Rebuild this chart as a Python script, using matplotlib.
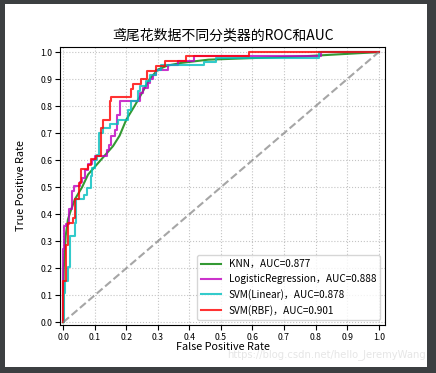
import matplotlib
matplotlib.use('Agg')
import matplotlib.pyplot as plt
import numpy as np

plt.rcParams['font.family'] = ['Noto Sans CJK SC', 'DejaVu Sans']
plt.rcParams['axes.unicode_minus'] = False

# ROC corners (fpr, tpr)
knn_fpr = [0, 0.002, 0.008, 0.015, 0.022, 0.037, 0.06, 0.079, 0.1, 0.121, 0.158, 0.179,
           0.2, 0.226, 0.25, 0.274, 0.3, 0.33, 0.374, 0.46, 0.77, 1.0]
knn_tpr = [0, 0.2, 0.32, 0.38, 0.406, 0.455, 0.5, 0.547, 0.575, 0.603, 0.652, 0.691,
           0.75, 0.8, 0.849, 0.9, 0.935, 0.95, 0.96, 0.972, 0.985, 1.0]

lr_fpr = [0, 0, 0.003, 0.003, 0.008, 0.008, 0.02, 0.02, 0.027, 0.027, 0.035, 0.035,
          0.052, 0.052, 0.06, 0.06, 0.068, 0.068, 0.078, 0.078, 0.09, 0.09, 0.1, 0.1,
          0.14, 0.14, 0.145, 0.145, 0.152, 0.152, 0.163, 0.163, 0.171, 0.171, 0.179, 0.179,
          0.242, 0.242, 0.253, 0.253, 0.268, 0.268, 0.274, 0.274, 0.284, 0.284, 0.295, 0.295,
          0.332, 0.332, 0.363, 0.363, 0.416, 0.416, 0.816, 0.816, 1.0]
lr_tpr = [0, 0.27, 0.27, 0.357, 0.357, 0.365, 0.365, 0.42, 0.42, 0.486, 0.486, 0.504,
          0.504, 0.52, 0.52, 0.535, 0.535, 0.565, 0.565, 0.585, 0.585, 0.6, 0.6, 0.617,
          0.617, 0.637, 0.637, 0.658, 0.658, 0.689, 0.689, 0.713, 0.713, 0.769, 0.769, 0.818,
          0.818, 0.849, 0.849, 0.867, 0.867, 0.885, 0.885, 0.9, 0.9, 0.916, 0.916, 0.935,
          0.935, 0.953, 0.953, 0.967, 0.967, 0.984, 0.984, 1.0, 1.0]

svl_fpr = [0, 0.003, 0.003, 0.007, 0.007, 0.014, 0.014, 0.021, 0.021, 0.037, 0.037, 0.042,
           0.042, 0.066, 0.066, 0.077, 0.077, 0.087, 0.087, 0.092, 0.092, 0.1, 0.1, 0.108,
           0.108, 0.114, 0.114, 0.126, 0.126, 0.147, 0.147, 0.174, 0.174, 0.207, 0.207, 0.216,
           0.216, 0.237, 0.237, 0.242, 0.242, 0.263, 0.263, 0.274, 0.274, 0.295, 0.295, 0.31,
           0.31, 0.447, 0.447, 0.484, 0.484, 0.81, 0.81, 1.0]
svl_tpr = [0, 0, 0.11, 0.11, 0.153, 0.153, 0.203, 0.203, 0.32, 0.32, 0.369, 0.369,
           0.455, 0.455, 0.47, 0.47, 0.498, 0.498, 0.541, 0.541, 0.57, 0.57, 0.6, 0.6,
           0.62, 0.62, 0.701, 0.701, 0.72, 0.72, 0.735, 0.735, 0.75, 0.75, 0.787, 0.787,
           0.818, 0.818, 0.855, 0.855, 0.873, 0.873, 0.892, 0.892, 0.916, 0.916, 0.935, 0.935,
           0.953, 0.953, 0.965, 0.965, 0.98, 0.98, 1.0, 1.0]

svr_fpr = [0, 0, 0.01, 0.01, 0.014, 0.014, 0.031, 0.031, 0.039, 0.039, 0.05, 0.05,
           0.056, 0.056, 0.079, 0.079, 0.089, 0.089, 0.105, 0.105, 0.121, 0.121, 0.126, 0.126,
           0.147, 0.147, 0.153, 0.153, 0.214, 0.214, 0.221, 0.221, 0.247, 0.247, 0.266, 0.266,
           0.295, 0.295, 0.323, 0.323, 0.389, 0.389, 0.589, 0.589, 1.0]
svr_tpr = [0, 0.153, 0.153, 0.286, 0.286, 0.369, 0.369, 0.387, 0.387, 0.455, 0.455, 0.517,
           0.517, 0.566, 0.566, 0.584, 0.584, 0.605, 0.605, 0.617, 0.617, 0.72, 0.72, 0.75,
           0.75, 0.818, 0.818, 0.834, 0.834, 0.865, 0.865, 0.883, 0.883, 0.9, 0.9, 0.931,
           0.931, 0.949, 0.949, 0.967, 0.967, 0.985, 0.985, 1.0, 1.0]

names = ['KNN', 'LogisticRegression', 'SVM(Linear)', 'SVM(RBF)']
aucs = [0.877, 0.888, 0.878, 0.901]
colors = ['g', 'm', 'c', 'r']
curves = [(knn_fpr, knn_tpr), (lr_fpr, lr_tpr), (svl_fpr, svl_tpr), (svr_fpr, svr_tpr)]

fig = plt.figure(figsize=(4.36, 3.73), dpi=100, facecolor='#3c3f41')
fig.patches.append(plt.Rectangle((5/436, 6/373), 422/436, 363/373, transform=fig.transFigure,
                                 facecolor='white', edgecolor='none', zorder=-10))
ax = fig.add_axes([60/436, 48/373, 325/436, 278.3/373])

for (fpr, tpr), name, auc, c in zip(curves, names, aucs, colors):
    ax.plot(fpr, tpr, c=c, lw=1.5, alpha=0.8, label=u'%s，AUC=%.3f' % (name, auc))
ax.plot((0, 1), (0, 1), c='gray', lw=1.5, ls='--', alpha=0.7)

ax.set_xlim((-0.01, 1.02))
ax.set_ylim((-0.01, 1.02))
ax.set_xticks(np.arange(0, 1.1, 0.1))
ax.set_yticks(np.arange(0, 1.1, 0.1))
ax.tick_params(labelsize=6.3, pad=2)
ax.set_xlabel('False Positive Rate', fontsize=7.8, labelpad=0)
ax.set_ylabel('True Positive Rate', fontsize=7.8, labelpad=10)
ax.grid(True, ls=':', color='#c4c4c4', lw=0.8)
ax.legend(loc='lower right', fancybox=True, framealpha=0.8, fontsize=7.2)
ax.set_title(u'鸢尾花数据不同分类器的ROC和AUC', fontsize=10, pad=5)

fig.text(426/436, 18/373, 'https://blog.csdn.net/hello_JeremyWang', ha='right', va='center',
         fontsize=7.2, color='#e6e6e6', family='DejaVu Sans')

fig.savefig('out.png', dpi=100, facecolor=fig.get_facecolor())
